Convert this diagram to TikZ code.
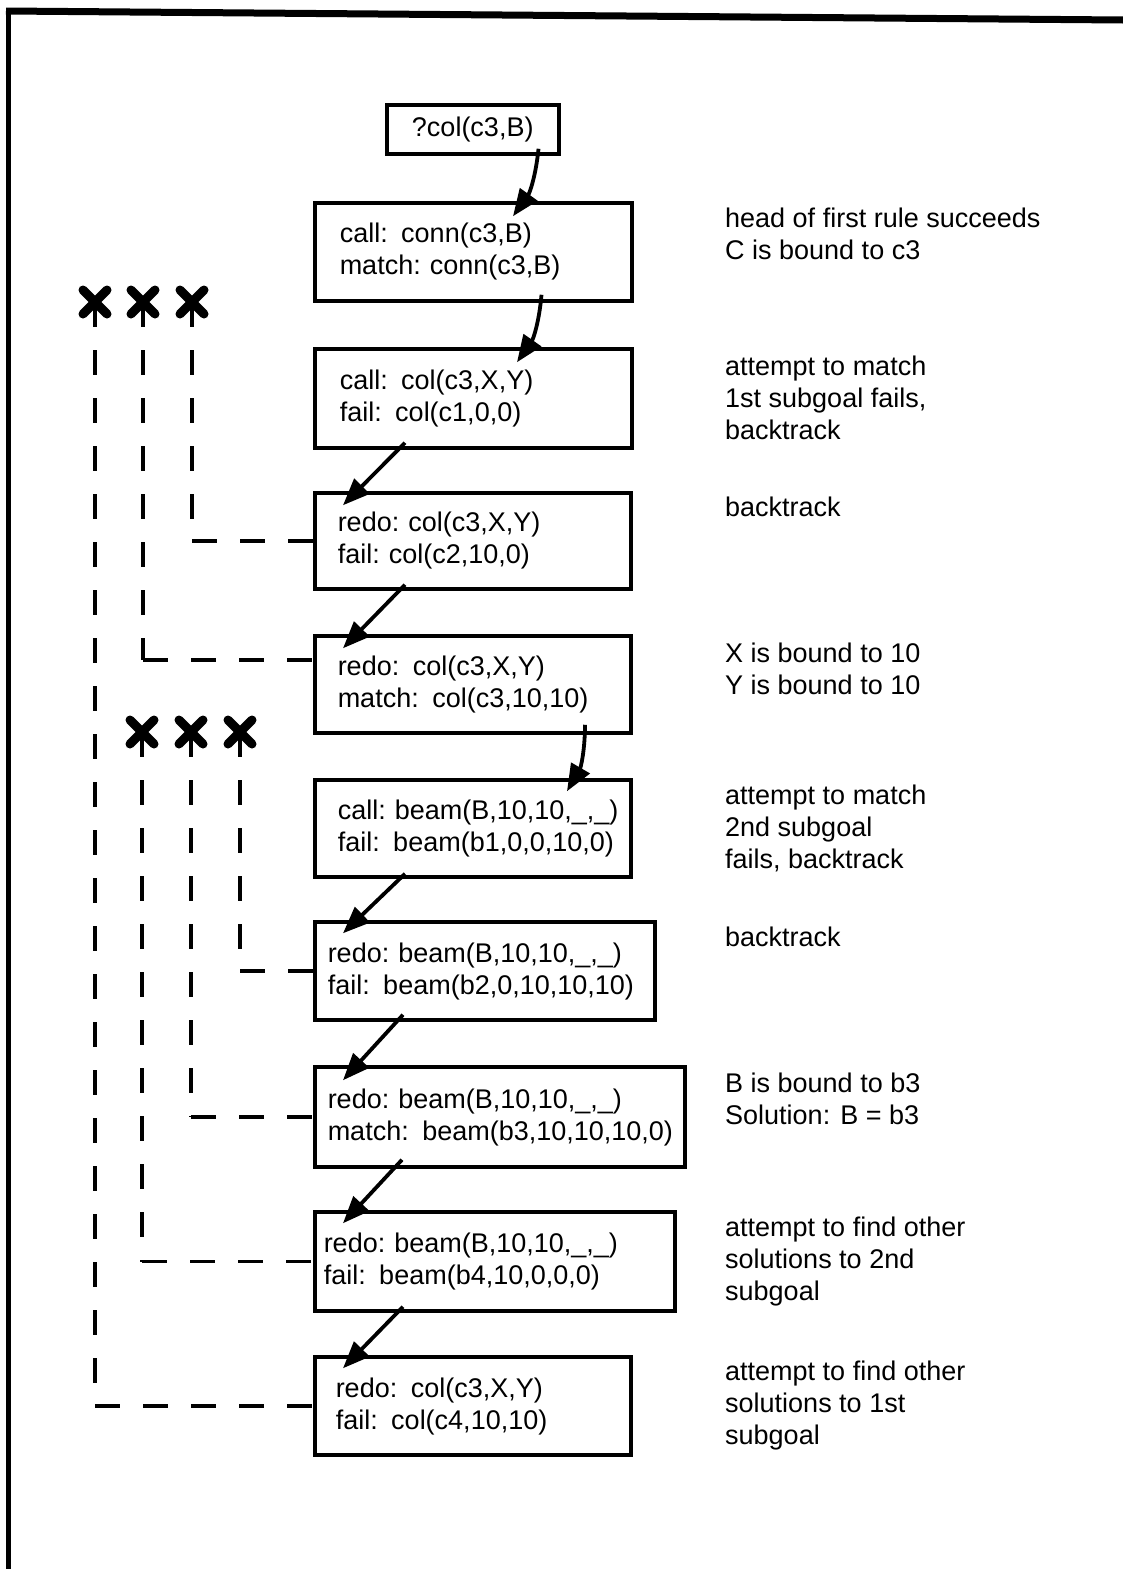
\documentclass[tikz,border=0pt]{standalone}
\usepackage{fontspec}
\setmainfont{Liberation Sans}
\usetikzlibrary{arrows.meta}

\begin{document}
\begin{tikzpicture}[
  x=1pt, y=-1pt,
  goal/.style={draw, line width=3.5pt, anchor=west, align=left, inner ysep=0pt,
               font=\fontsize{27}{32}\selectfont},
  note/.style={anchor=base west, align=left, inner sep=0pt,
               font=\fontsize{27}{31.7}\selectfont},
  flow/.style={line width=3.8pt, -{Triangle[length=27pt, width=21pt]}},
  trail/.style={line width=3.5pt, dash pattern=on 25pt off 23pt},
  cross/.pic={\draw[line width=9pt, line cap=round] (-12,-12) -- (12,12) (-12,12) -- (12,-12);},
]
\useasboundingbox (0,0) rectangle (1123,1569);

% Frame
\draw[line width=7pt] (6,11) -- (1123,20);
\draw[line width=5pt] (8,8) -- (8,1569);

% Goal boxes
\node[goal, minimum width=172pt, minimum height=49pt, inner xsep=0pt] (b1) at (385,129.5) {?col(c3,B)};
\node[goal, minimum width=317pt, minimum height=98pt, text width=267pt, inner xsep=25pt] (b2) at (313,252)
  {call:~\,conn(c3,B)\\match:~conn(c3,B)};
\node[goal, minimum width=317pt, minimum height=99pt, text width=267pt, inner xsep=25pt] (b3) at (313,398.5)
  {call:~\,col(c3,X,Y)\\fail:~\,col(c1,0,0)};
\node[goal, minimum width=316pt, minimum height=96pt, text width=270pt, inner xsep=23pt] (b4) at (313,541)
  {redo:~col(c3,X,Y)\\fail:~col(c2,10,0)};
\node[goal, minimum width=316pt, minimum height=97pt, text width=270pt, inner xsep=23pt] (b5) at (313,684.5)
  {redo:~\,col(c3,X,Y)\\match:~\,col(c3,10,10)};
\node[goal, minimum width=316pt, minimum height=97pt, text width=270pt, inner xsep=23pt] (b6) at (313,828.5)
  {call:~beam(B,10,10,\_,\_)\\fail:~\,beam(b1,0,0,10,0)};
\node[goal, minimum width=340pt, minimum height=98pt, text width=314pt, inner xsep=13pt] (b7) at (313,971)
  {redo:~beam(B,10,10,\_,\_)\\fail:~\,beam(b2,0,10,10,10)};
\node[goal, minimum width=370pt, minimum height=100pt, text width=344pt, inner xsep=13pt] (b8) at (313,1117)
  {redo:~beam(B,10,10,\_,\_)\\match:~\,beam(b3,10,10,10,0)};
\node[goal, minimum width=360pt, minimum height=99pt, text width=342pt, inner xsep=9pt] (b9) at (313,1261.5)
  {redo:~beam(B,10,10,\_,\_)\\fail:~\,beam(b4,10,0,0,0)};
\node[goal, minimum width=316pt, minimum height=98pt, text width=274pt, inner xsep=21pt] (b10) at (313,1406)
  {redo:~\,col(c3,X,Y)\\fail:~\,col(c4,10,10)};

% Arrows between goals
\draw[flow] ([shift={(-22,-7)}]b1.south east) to[bend left=15] ([shift={(200,15)}]b2.north west);
\draw[flow] ([shift={(-92,-8)}]b2.south east) to[bend left=15] ([shift={(204,15)}]b3.north west);
\draw[flow] ([shift={(92,-7)}]b3.south west) -- ([shift={(30,14)}]b4.north west);
\draw[flow] ([shift={(92,-6)}]b4.south west) -- ([shift={(30,14)}]b5.north west);
\draw[flow] ([shift={(272,-10)}]b5.south west) to[bend left=15] ([shift={(254,13)}]b6.north west);
\draw[flow] ([shift={(92,-5)}]b6.south west) -- ([shift={(30,13)}]b7.north west);
\draw[flow] ([shift={(90,-7)}]b7.south west) -- ([shift={(30,15)}]b8.north west);
\draw[flow] ([shift={(89,-9)}]b8.south west) -- ([shift={(30,13)}]b9.north west);
\draw[flow] ([shift={(90,-6)}]b9.south west) -- ([shift={(30,13)}]b10.north west);

% Choice points
\coordinate (k1) at (95,302);
\coordinate (k2) at (143,302);
\coordinate (k3) at (192,302);
\coordinate (k4) at (142,732);
\coordinate (k5) at (191,732);
\coordinate (k6) at (240,732);
\pic at (k1) {cross};
\pic at (k2) {cross};
\pic at (k3) {cross};
\pic at (k4) {cross};
\pic at (k5) {cross};
\pic at (k6) {cross};

% Backtrack links
\coordinate (e5) at ([yshift=24.5pt]b5.west);
\draw[trail] (k3) -- (k3 |- b4.west);
\draw[trail] (k3 |- b4.west) -- (b4.west);
\draw[trail] (k2) -- (k2 |- e5);
\draw[trail] (k2 |- e5) -- (e5);
\draw[trail] (k1) -- (k1 |- b10.west);
\draw[trail] (k1 |- b10.west) -- (b10.west);
\draw[trail] (k6) -- (k6 |- b7.west);
\draw[trail] (k6 |- b7.west) -- (b7.west);
\draw[trail] (k5) -- (k5 |- b8.west);
\draw[trail] (k5 |- b8.west) -- (b8.west);
\draw[trail] (k4) -- (k4 |- b9.west);
\draw[trail] (k4 |- b9.west) -- (b9.west);

% Comments (placed at the baseline of their last line)
\node[note] (n1) at (725,259) {head of first rule succeeds\\C is bound to c3};
\node[note] (n2) at (725,439) {attempt to match\\1st subgoal fails,\\backtrack};
\node[note] (n3) at (725,516) {backtrack};
\node[note] (n4) at (725,694) {X is bound to 10\\Y is bound to 10};
\node[note] (n5) at (725,868) {attempt to match\\2nd subgoal\\fails, backtrack};
\node[note] (n6) at (725,946) {backtrack};
\node[note] (n7) at (725,1124) {B is bound to b3\\Solution: B = b3};
\node[note] (n8) at (725,1300) {attempt to find other\\solutions to 2nd\\subgoal};
\node[note] (n9) at (725,1444) {attempt to find other\\solutions to 1st\\subgoal};

\end{tikzpicture}
\end{document}
